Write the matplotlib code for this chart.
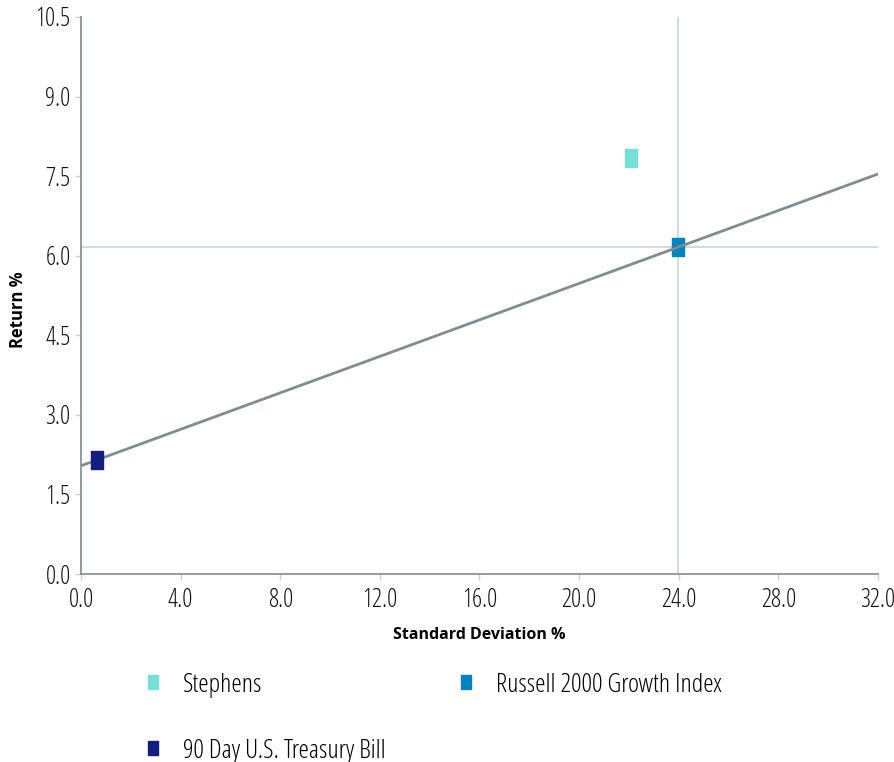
import matplotlib.pyplot as plt
from matplotlib import font_manager
from matplotlib.path import Path
from matplotlib.lines import Line2D

# pick a narrow face if one is installed
fam, stretch = 'Liberation Sans', 'normal'
for f in font_manager.fontManager.ttflist:
    if f.name == 'Liberation Sans Narrow':
        fam, stretch = f.name, 'normal'
        break
    if f.name in ('DejaVu Sans', 'Open Sans', 'Noto Sans', 'Roboto') and str(f.stretch) in ('condensed', '400', 'semi-condensed'):
        fam, stretch = f.name, 'condensed'
plt.rcParams['font.family'] = [fam, 'DejaVu Sans']
plt.rcParams['font.stretch'] = stretch

# data
names = ['Stephens', 'Russell 2000 Growth Index', '90 Day U.S. Treasury Bill']
std_dev = [22.1, 23.97, 0.64]
returns = [7.84, 6.16, 2.15]
colors = ['#74e0d8', '#0083be', '#131f7f']
xticks = [0.0, 4.0, 8.0, 12.0, 16.0, 20.0, 24.0, 28.0, 32.0]
yticks = [0.0, 1.5, 3.0, 4.5, 6.0, 7.5, 9.0, 10.5]

# tall rectangle marker
rect = Path([(-0.36, -0.5), (0.36, -0.5), (0.36, 0.5), (-0.36, 0.5), (-0.36, -0.5)],
            [Path.MOVETO, Path.LINETO, Path.LINETO, Path.LINETO, Path.CLOSEPOLY])

fig = plt.figure(figsize=(8.94, 7.62), dpi=100)
ax = fig.add_axes([0.0906, 0.2467, 0.8915, 0.731])

# crosshair on the benchmark
ax.axhline(returns[1], color='#c9d5d8', lw=1.2, zorder=1)
ax.axvline(std_dev[1], color='#c9d5d8', lw=1.2, zorder=1)

# capital market line through t-bill and benchmark
slope = (returns[1] - returns[2]) / (std_dev[1] - std_dev[2])
icpt = returns[2] - slope * std_dev[2]
ax.plot([0, 32], [icpt, icpt + slope * 32], color='#7f8c93', lw=2, zorder=2)

for i in range(3):
    ax.plot(std_dev[i], returns[i], marker=rect, ms=12.5, color=colors[i],
            linestyle='none', zorder=3 if i != 1 else 1.5)

ax.set_xlim(0, 32)
ax.set_ylim(0, 10.5)
ax.set_xticks(xticks)
ax.set_yticks(yticks)
ax.set_xticklabels(['%.1f' % v for v in xticks], fontsize=18)
ax.set_yticklabels(['%.1f' % v for v in yticks], fontsize=18)
ax.tick_params(colors='#c8d0d4', labelcolor='#111111', length=4, width=1)
ax.tick_params(axis='x', pad=6)
for s in ['top', 'right']:
    ax.spines[s].set_visible(False)
for s in ['left', 'bottom']:
    ax.spines[s].set_color('#7f8c93')
    ax.spines[s].set_linewidth(1.2)

ax.set_xlabel('Standard Deviation %', fontsize=11.5, fontweight='bold', labelpad=10)
ax.set_ylabel('Return %', fontsize=12, fontweight='bold')
ax.yaxis.set_label_coords(-0.068, 0.474)

handles = [Line2D([], [], marker=rect, ms=9.5, color=c, linestyle='none') for c in colors]
order = [0, 2, 1]
fig.legend([handles[i] for i in order], [names[i] for i in order],
           loc='upper left', bbox_to_anchor=(0.147, 0.1345), ncol=2, frameon=False,
           fontsize=19, labelspacing=1.55, columnspacing=2.75, handletextpad=0.85,
           handlelength=0.6, borderpad=0)

fig.savefig('out.png', dpi=100)
